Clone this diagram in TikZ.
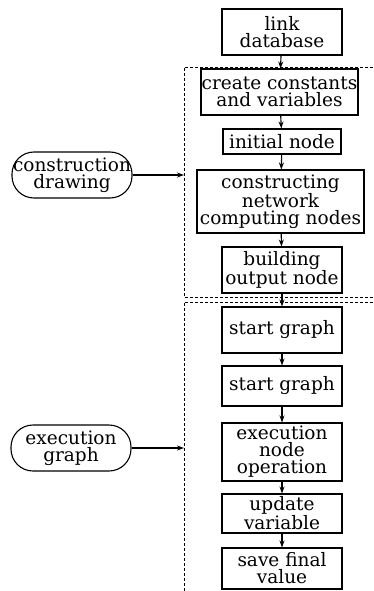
\documentclass[tikz,border=0pt]{standalone}
\usepackage{fontspec}
\setmainfont{DejaVu Serif}
\usetikzlibrary{arrows.meta}

\begin{document}
\begin{tikzpicture}[x=1pt,y=-1pt,line width=1.1pt,font=\fontsize{18.5}{17}\selectfont,
    box/.style={draw,inner sep=0pt,align=center},
    term/.style={draw,rounded corners=22pt,inner sep=0pt,align=center,minimum width=120pt,minimum height=46pt},
    arr/.style={-{Stealth[length=7pt,width=5pt]}}]
                \useasboundingbox (0,0) rectangle (373,591);
                \foreach \x/\y/\w/\h/\n/\t in {282/32/120/46/db/link\\database, 279.5/92/157/46/consts/create constants\\and variables, 282/141.5/118/25/init/initial node, 280.5/201.5/167/63/cnet/constructing\\network\\computing nodes, 282/270/120/46/outn/building\\output node, 282/330/120/46/sg1/start graph, 282/386/120/40/sg2/start graph, 282/452/120/58/exec/execution\\node\\operation, 282/513.5/120/39/upd/update\\variable, 282/568.5/120/41/save/save final\\value}
                \node[box,minimum width=\w pt,minimum height=\h pt] (\n) at (\x,\y) {\t};
                \foreach \x/\y/\n/\t in {72/175/cdraw/construction\\drawing, 71/448/egraph/execution\\graph}
                \node[term] (\n) at (\x,\y) {\t};
                \foreach \s/\t in {db/consts, consts/init, init/cnet, cnet/outn, outn/sg1, sg1/sg2, sg2/exec, exec/upd, upd/save}
                \draw[arr] (\s) -- (\t);
                % dashed frames of the two stages
                \draw[dashed,line width=0.9pt,dash pattern=on 3pt off 2pt] (373,67) -- (184,67) -- (184,297) -- (373,297);
                \draw[dashed,line width=0.9pt,dash pattern=on 3pt off 2pt] (373,302) -- (184,302) -- (184,591);
                \coordinate (in1) at (184,175);
                \coordinate (in2) at (184,448);
                \draw[arr] (cdraw) -- (in1);
                \draw[arr] (egraph) -- (in2);

            \end{tikzpicture}
\end{document}
